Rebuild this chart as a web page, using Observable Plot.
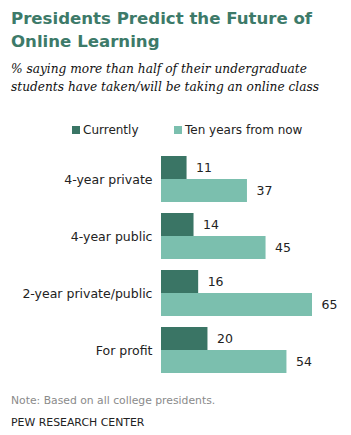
<!DOCTYPE html>
<html>
<head>
<meta charset="utf-8">
<script src="https://cdn.jsdelivr.net/npm/d3@7"></script>
<script src="https://cdn.jsdelivr.net/npm/@observablehq/plot@0.6"></script>
<style>
  body { margin: 0; background: #fff; width: 351px; height: 435px; position: relative; overflow: hidden; }
  .title { position: absolute; left: 11px; top: 7px; font-family: "DejaVu Sans", Verdana, sans-serif; font-weight: bold; font-size: 16.6px; line-height: 23px; color: #3d7a69; white-space: nowrap; }
  .subtitle { position: absolute; left: 11px; top: 60px; font-family: "DejaVu Serif", Georgia, serif; font-style: italic; font-size: 12.2px; line-height: 18px; color: #111; white-space: nowrap; }
  .legend { position: absolute; top: 123px; left: 0; font-family: "DejaVu Sans", Verdana, sans-serif; font-size: 12px; color: #222; white-space: nowrap; }
  .legend .item { position: absolute; top: 0; }
  .legend .sw { display: inline-block; width: 8px; height: 8px; margin-right: 3px; vertical-align: 0px; }
  #chart { position: absolute; left: 0; top: 145px; }
  .note { position: absolute; left: 11px; top: 394px; font-family: "DejaVu Sans", Verdana, sans-serif; font-size: 10.8px; color: #8a8a8a; white-space: nowrap; }
  .source { position: absolute; left: 11px; top: 416px; font-family: "DejaVu Sans", Verdana, sans-serif; font-size: 10.9px; color: #222; white-space: nowrap; }
</style>
</head>
<body>
<div class="title">Presidents Predict the Future of<br>Online Learning</div>
<div class="subtitle">% saying more than half of their undergraduate<br>students have taken/will be taking an online class</div>
<div class="legend" id="legend"></div>
<div id="chart"></div>
<div class="note">Note: Based on all college presidents.</div>
<div class="source">PEW RESEARCH CENTER</div>
<script>
const categories = ["4-year private", "4-year public", "2-year private/public", "For profit"];
const seriesNames = ["Currently", "Ten years from now"];
const currently = [11, 14, 16, 20];
const tenYears = [37, 45, 65, 54];
const colors = ["#3a7565", "#7bbfae"];

const data = [];
categories.forEach((c, i) => {
  data.push({category: c, series: seriesNames[0], value: currently[i]});
  data.push({category: c, series: seriesNames[1], value: tenYears[i]});
});

// legend
const legend = document.getElementById("legend");
const legendX = [72, 174];
seriesNames.forEach((s, i) => {
  const item = document.createElement("span");
  item.className = "item";
  item.style.left = legendX[i] + "px";
  item.innerHTML = `<span class="sw" style="background:${colors[i]}"></span>${s}`;
  legend.appendChild(item);
});

const chart = Plot.plot({
  width: 351,
  height: 233,
  marginLeft: 161,
  marginRight: 39,
  marginTop: 11,
  marginBottom: 5,
  style: {fontFamily: "'DejaVu Sans', Verdana, sans-serif", fontSize: "12px", color: "#222", background: "transparent"},
  x: {domain: [0, 65], axis: null},
  y: {domain: seriesNames, axis: null, paddingInner: 0, paddingOuter: 0},
  fy: {domain: categories, paddingInner: 0.2, paddingOuter: 0, label: null},
  color: {domain: seriesNames, range: colors},
  marks: [
    Plot.axisFy({anchor: "left", tickSize: 0, tickPadding: 9, fontSize: 12.5, label: null}),
    Plot.barX(data, {fy: "category", y: "series", x: "value", fill: "series", inset: 0}),
    Plot.text(data, {fy: "category", y: "series", x: "value", text: d => String(d.value), textAnchor: "start", dx: 9, fill: "#222", fontSize: 12.5})
  ]
});
document.getElementById("chart").appendChild(chart);
</script>
</body>
</html>
